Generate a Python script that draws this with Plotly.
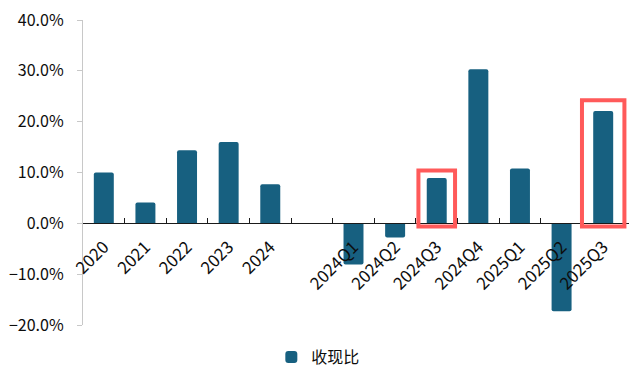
import plotly.graph_objects as go

categories = ["2020", "2021", "2022", "2023", "2024", " ",
              "2024Q1", "2024Q2", "2024Q3", "2024Q4", "2025Q1", "2025Q2", "2025Q3"]
values = [10.0, 4.1, 14.4, 16.0, 7.7, None,
          -8.1, -2.8, 8.9, 30.3, 10.8, -17.3, 22.1]
series_name = "收现比"
highlight = ["2024Q3", "2025Q3"]

FONT = "Noto Sans CJK SC, Noto Sans, sans-serif"
BAR = "#176080"
RED = "#FF5A5A"
TXT = "#0d0d0d"

fig = go.Figure()
fig.add_trace(go.Bar(
    x=categories, y=values, name=series_name,
    marker=dict(color=BAR, line=dict(width=0), cornerradius=2),
    width=0.48, showlegend=True,
))

# highlight boxes
box_specs = {"2024Q3": (0.44, 10.4), "2025Q3": (0.51, 24.2)}
for cat in highlight:
    i = categories.index(cat)
    hw, top = box_specs[cat]
    fig.add_shape(type="rect", xref="x", yref="y",
                  x0=i - hw, x1=i + hw, y0=-0.6, y1=top,
                  line=dict(color=RED, width=4), fillcolor="rgba(0,0,0,0)",
                  layer="above")

fig.update_layout(
    width=635, height=371,
    margin=dict(l=83, r=6, t=20, b=46, autoexpand=False),
    paper_bgcolor="white", plot_bgcolor="white",
    font=dict(family=FONT, size=16, color=TXT),
    showlegend=True,
    legend=dict(orientation="h", x=0.431, xanchor="center", y=-0.105, yanchor="middle",
                font=dict(size=16, family=FONT, color=TXT), itemwidth=30,
                bgcolor="rgba(0,0,0,0)"),
    xaxis=dict(
        type="category", categoryorder="array", categoryarray=categories,
        range=[-0.5, 12.62],
        anchor="free", position=1/3,
        showline=True, linecolor="#1a1a1a", linewidth=1.3,
        ticks="inside", ticklen=5, tickcolor="#1a1a1a", tickwidth=1.3,
        tickson="boundaries",
        tickangle=-45, tickfont=dict(size=17, family=FONT, color=TXT),
        ticklabelstandoff=6,
        showgrid=False, zeroline=False, automargin=False,
    ),
    yaxis=dict(
        range=[-20, 40], dtick=10, tick0=0,
        tickformat=".1f", ticksuffix="%",
        showline=True, linecolor="#c8c8c8", linewidth=1.3,
        ticks="outside", ticklen=5, tickcolor="#c8c8c8",
        showgrid=False, zeroline=False, automargin=False,
        tickfont=dict(size=16, family=FONT, color=TXT),
        ticklabelstandoff=10,
    ),
)

fig.write_html("out.html")
